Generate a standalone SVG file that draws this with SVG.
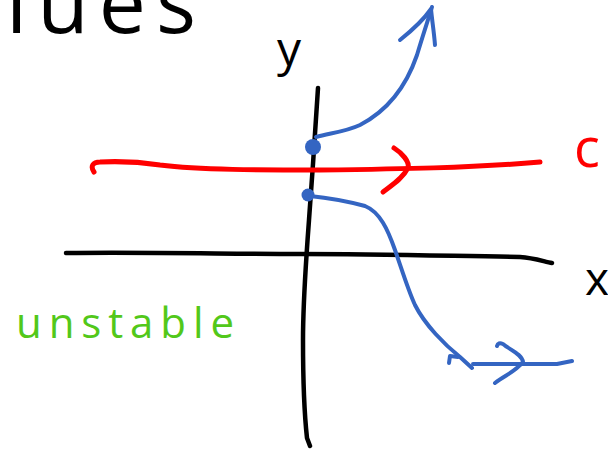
<svg xmlns="http://www.w3.org/2000/svg" width="608" height="452" viewBox="0 0 608 452">
<style>
.ink{fill:none;stroke-linecap:round;stroke-linejoin:round}
.blk{stroke:#000;stroke-width:4.5}
.red{stroke:#ff0000;stroke-width:5}
.blu{stroke:#3465c2;stroke-width:4}
.hand{font-family:"Open Sans","DejaVu Sans",sans-serif}
</style>
<rect width="608" height="452" fill="#fff"/>
<text x="6" y="33" class="hand" font-size="84" fill="#000" textLength="190" lengthAdjust="spacing">lues</text>
<g id="y-axis"><path class="ink blk" d="M318,88 C316,120 312,180 309,220 C306,260 303,300 303,340 C303,380 305,420 307,438 L310,446"/></g>
<g id="x-axis"><path class="ink blk" stroke-width="6" d="M66,253 C150,252 230,254 300,254 C380,254 450,256 520,257 C535,258 545,262 552,263"/></g>
<g id="red-line">
<path class="ink red" d="M94,172 C90,166 93,162 100,162 C120,161 140,162 160,165 C200,170 260,170 320,170 C400,169 470,168 540,162"/>
<path class="ink red" d="M394,148 C402,153 410,162 408,168 C403,178 392,185 383,192"/>
</g>
<g id="upper-trajectory">
<circle cx="313" cy="147" r="8" fill="#3465c2"/>
<path class="ink blu" d="M316,137 C330,133 345,132 360,125 C385,112 405,90 417,55 C423,35 428,20 432,7"/>
<path class="ink blu" d="M400,40 C410,32 422,22 431,9 C432,20 434,32 435,45"/>
</g>
<g id="lower-trajectory">
<circle cx="308" cy="195" r="6.5" fill="#3465c2"/>
<path class="ink blu" d="M310,196 C330,198 350,202 365,206 C380,212 388,230 395,250 C402,270 408,290 415,305 C425,325 445,345 460,357 L472,368"/>
<path class="ink blu" d="M449,363 L450,356 L458,357"/>
<path class="ink blu" d="M473,364 L557,364 L572,361"/>
<path class="ink blu" d="M497,346 Q498,342 503,344 C510,350 522,354 523,362 C515,372 505,375 495,383"/>
</g>
<text x="277" y="66" class="hand" font-size="48" fill="#000">y</text>
<text x="585" y="295" class="hand" font-size="46" fill="#000">x</text>
<text x="574" y="167" class="hand" font-size="54" fill="#ff0000">c</text>
<text x="16" y="338" class="hand" font-size="42" fill="#52c81a" textLength="218" lengthAdjust="spacing">unstable</text>
</svg>
